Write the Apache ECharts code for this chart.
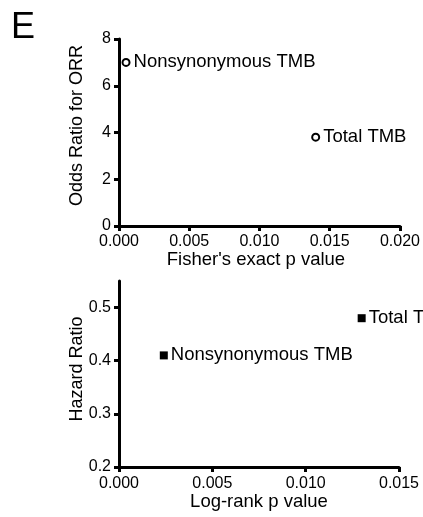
<!DOCTYPE html>
<html>
<head>
<meta charset="utf-8">
<script src="https://cdn.jsdelivr.net/npm/echarts@6/dist/echarts.min.js"></script>
<style>
html,body{margin:0;padding:0;background:#fff;}
#c{width:423px;height:517px;}
</style>
</head>
<body>
<div id="c"></div>
<script>
// Panel E top: Fisher's exact p value vs Odds Ratio for ORR
var orrNames = ["Nonsynonymous TMB", "Total TMB"];
var orrP = [0.0005, 0.014];
var orrOdds = [7.0, 3.8];
var orrXTicks = [0, 0.005, 0.010, 0.015, 0.020];
var orrYTicks = [0, 2, 4, 6, 8];

// Panel E bottom: Log-rank p value vs Hazard Ratio
var hrNames = ["Nonsynonymous TMB", "Total TMB"];
var hrP = [0.0024, 0.013];
var hrRatio = [0.41, 0.48];
var hrXTicks = [0, 0.005, 0.010, 0.015];
var hrYTicks = [0.2, 0.3, 0.4, 0.5];

var FONT = "Liberation Sans, Arial, sans-serif";
var chart = echarts.init(document.getElementById('c'), null, {renderer: 'canvas'});

function axisCommon(ticks, fmt, margin) {
  return {
    axisLine: {show: true, onZero: false, lineStyle: {color: '#000', width: 3}},
    axisTick: {show: true, inside: false, length: 5, lineStyle: {color: '#000', width: 3}, customValues: ticks},
    axisLabel: {color: '#000', fontSize: 16, fontFamily: FONT, margin: margin, customValues: ticks, formatter: fmt},
    splitLine: {show: false},
    nameLocation: 'middle',
    nameMoveOverlap: false
  };
}

function pts(xs, ys, names) {
  return xs.map(function (x, i) { return {value: [x, ys[i]], name: names[i]}; });
}

var f3 = function (v) { return v.toFixed(3); };
var f0 = function (v) { return v.toFixed(0); };
var f1 = function (v) { return v.toFixed(1); };

var option = {
  backgroundColor: '#fff',
  animation: false,
  title: {text: 'E', left: 6, top: 5, textStyle: {color: '#000', fontSize: 36, fontWeight: 'normal', fontFamily: FONT}},
  grid: [
    {left: 119, right: 23, top: 39, bottom: 291},
    {left: 119, right: 24, top: 281, bottom: 50}
  ],
  xAxis: [
    Object.assign(axisCommon(orrXTicks, f3, 8), {gridIndex: 0, type: 'value', min: 0, max: 0.02, interval: 0.005,
      name: "Fisher's exact p value", nameGap: 24,
      nameTextStyle: {color: '#000', fontSize: 18.5, fontFamily: FONT, padding: [0, 7, 0, 0]}}),
    Object.assign(axisCommon(hrXTicks, f3, 9), {gridIndex: 1, type: 'value', min: 0, max: 0.015, interval: 0.005,
      name: "Log-rank p value", nameGap: 25,
      nameTextStyle: {color: '#000', fontSize: 18.5, fontFamily: FONT}})
  ],
  yAxis: [
    Object.assign(axisCommon(orrYTicks, f0, 8), {gridIndex: 0, type: 'value', min: 0, max: 8, interval: 2,
      name: "Odds Ratio for ORR", nameGap: 33,
      nameTextStyle: {color: '#000', fontSize: 18, fontFamily: FONT, padding: [0, 0, 0, 14]}}),
    Object.assign(axisCommon(hrYTicks, f1, 8), {gridIndex: 1, type: 'value', min: 0.2, max: 0.55,
      name: "Hazard Ratio", nameGap: 33,
      nameTextStyle: {color: '#000', fontSize: 18, fontFamily: FONT, padding: [0, 0, 0, 10]}})
  ],
  series: [
    {
      type: 'scatter', xAxisIndex: 0, yAxisIndex: 0,
      data: pts(orrP, orrOdds, orrNames),
      symbol: 'circle', symbolSize: 7,
      itemStyle: {color: '#fff', borderColor: '#000', borderWidth: 2, opacity: 1},
      label: {show: true, position: 'right', distance: 3, formatter: '{b}', color: '#000', fontSize: 18.5, fontFamily: FONT},
      clip: false
    },
    {
      type: 'scatter', xAxisIndex: 1, yAxisIndex: 1,
      data: pts(hrP, hrRatio, hrNames),
      symbol: 'rect', symbolSize: 8,
      itemStyle: {color: '#000', opacity: 1},
      label: {show: true, position: 'right', distance: 3, formatter: '{b}', color: '#000', fontSize: 18.5, fontFamily: FONT},
      clip: false
    }
  ]
};
chart.setOption(option);
</script>
</body>
</html>
